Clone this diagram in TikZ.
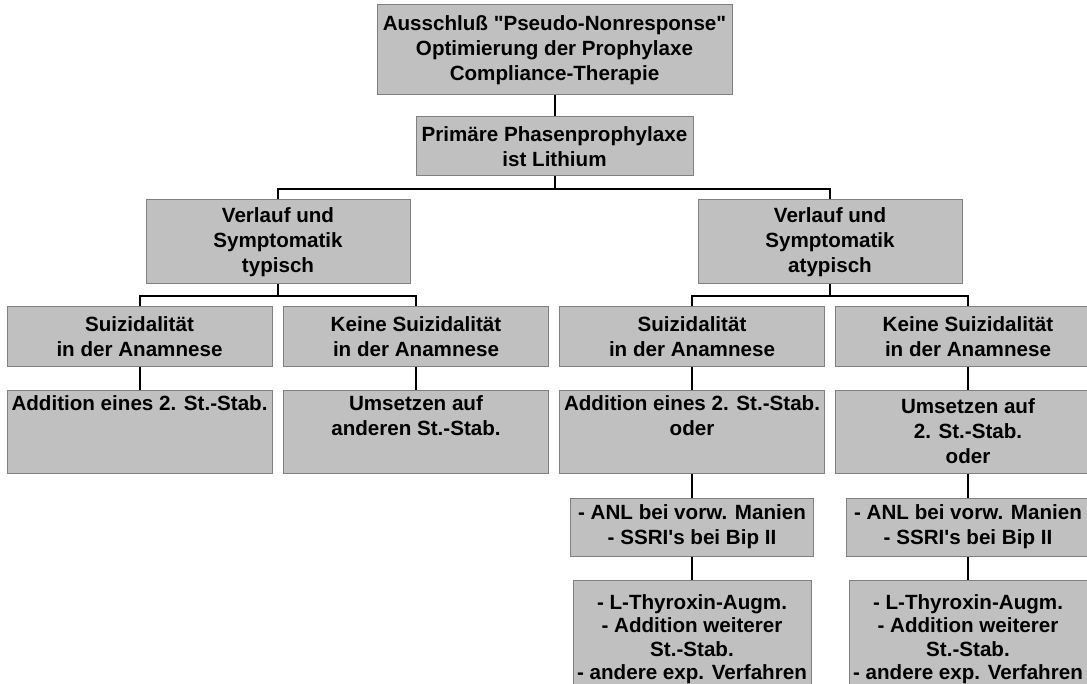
\documentclass[tikz,border=0pt]{standalone}
\usepackage{fontspec}
\setmainfont{Liberation Sans}
\usepackage{tikz}
\definecolor{boxfill}{HTML}{C0C0C0}
\definecolor{boxline}{HTML}{808080}
\tikzstyle{box} = [draw=boxline, fill=boxfill, line width=0.5pt, align=center, inner sep=0pt, font=\fontsize{10.3}{12.5}\selectfont\bfseries]
\tikzstyle{head} = [box, minimum width=132pt, minimum height=42pt]
\tikzstyle{case} = [box, minimum width=132.5pt, minimum height=29.5pt]
\tikzstyle{therapy} = [box, minimum width=132.5pt, minimum height=41.5pt]
\tikzstyle{extra} = [box, minimum width=121.5pt, minimum height=29pt]
\tikzstyle{last} = [box, minimum width=119pt, minimum height=59pt, font=\fontsize{10.3}{11.75}\selectfont\bfseries]
\tikzstyle{link} = [line width=1pt]

\begin{document}
\begin{tikzpicture}[x=0.5pt, y=-0.5pt]
		\path[use as bounding box] (0,0) rectangle (1087,684);
		\clip (0,0) rectangle (1087,684);

		\node [box, minimum width=177.5pt, minimum height=45pt] (start) at (554.5,50) {Ausschluß \textquotedbl Pseudo-Nonresponse\textquotedbl\\Optimierung der Prophylaxe\\Compliance-Therapie};
		\node [box, minimum width=138.5pt, minimum height=29.5pt] (lithium) at (554.5,146.5) {Primäre Phasenprophylaxe\\ist Lithium};
		\node [head] (typ) at (278,242) {Verlauf und\\Symptomatik\\typisch};
		\node [head] (atyp) at (830,242) {Verlauf und\\Symptomatik\\atypisch};

		\node [case] (typsui) at (139.5,336.5) {Suizidalität\\in der Anamnese};
		\node [case] (typkein) at (416,336.5) {Keine Suizidalität\\in der Anamnese};
		\node [case] (atypsui) at (692,336.5) {Suizidalität\\in der Anamnese};
		\node [case] (atypkein) at (968,336.5) {Keine Suizidalität\\in der Anamnese};

		\node [therapy] (typadd) at (139.5,431.5) {Addition eines 2. St.-Stab.\\\strut\\\strut};
		\node [therapy] (typums) at (416,431.5) {Umsetzen auf\\anderen St.-Stab.\\\strut};
		\node [therapy] (atypadd) at (692,431.5) {Addition eines 2. St.-Stab.\\oder\\\strut};
		\node [therapy] (atypums) at (968,431.5) {Umsetzen auf\\2. St.-Stab.\\oder};

		\node [extra] (atypanl) at (692,527) {- ANL bei vorw. Manien\\- SSRI\textquotesingle s bei Bip II};
		\node [extra] (atypkanl) at (968,527) {- ANL bei vorw. Manien\\- SSRI\textquotesingle s bei Bip II};
		\node [last] (atypthy) at (692,639) {- L-Thyroxin-Augm.\\- Addition weiterer\\St.-Stab.\\- andere exp. Verfahren};
		\node [last] (atypkthy) at (968,639) {- L-Thyroxin-Augm.\\- Addition weiterer\\St.-Stab.\\- andere exp. Verfahren};

		\draw [link] (start) -- (lithium);
		\draw [link] (lithium.south) -- ++(0,13) -| (typ.north);
		\draw [link] (lithium.south) -- ++(0,13) -| (atyp.north);
		\draw [link] (typ.south) -- ++(0,12) -| (typsui.north);
		\draw [link] (typ.south) -- ++(0,12) -| (typkein.north);
		\draw [link] (atyp.south) -- ++(0,12) -| (atypsui.north);
		\draw [link] (atyp.south) -- ++(0,12) -| (atypkein.north);
		\draw [link] (typsui) -- (typadd);
		\draw [link] (typkein) -- (typums);
		\draw [link] (atypsui) -- (atypadd);
		\draw [link] (atypkein) -- (atypums);
		\draw [link] (atypadd) -- (atypanl);
		\draw [link] (atypums) -- (atypkanl);
		\draw [link] (atypanl) -- (atypthy);
		\draw [link] (atypkanl) -- (atypkthy);
\end{tikzpicture}
\end{document}
